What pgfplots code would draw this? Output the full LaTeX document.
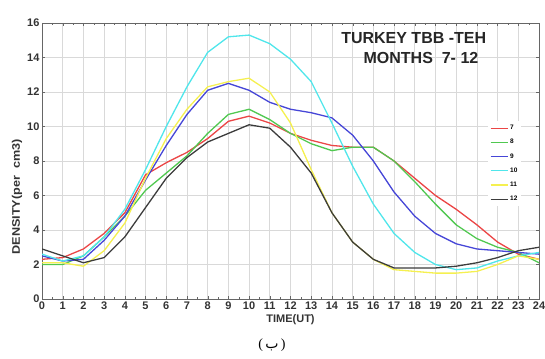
\documentclass[border=0pt]{standalone}
\usepackage{fontspec}
\setmainfont{Liberation Sans}
\newfontfamily\seriffont{Liberation Serif}
\newfontfamily\arabicfont[Script=Arabic]{DejaVu Sans}
\TeXXeTstate=1
\usepackage{graphicx}
\usepackage{pgfplots}
\pgfplotsset{compat=1.18}
\definecolor{c7}{RGB}{235,70,70}
\definecolor{c8}{RGB}{80,200,80}
\definecolor{c9}{RGB}{70,70,215}
\definecolor{c10}{RGB}{80,230,235}
\definecolor{c11}{RGB}{245,240,80}
\definecolor{c12}{RGB}{60,60,60}
\begin{document}
\begin{tikzpicture}
\useasboundingbox (-42pt,-59pt) rectangle (503pt,299pt);
\begin{axis}[
  at={(0pt,0pt)}, anchor=south west,
  scale only axis, width=497pt, height=276pt,
  xmin=0, xmax=24, ymin=0, ymax=16,
  xtick={0,1,...,24}, ytick={0,2,...,16},
  minor x tick num=1,
  tick align=inside,
  major tick length=3pt, minor tick length=2pt,
  grid=major,
  major grid style={draw=gray!30, line width=0.6pt},
  axis line style={draw=gray!80!black, line width=0.8pt},
  tick style={draw=gray!80!black},
  /pgf/number format/assume math mode=true,
  ticklabel style={font=\fontsize{11}{12}\selectfont\bfseries\color{black!80}},
  xticklabel style={yshift=-2pt, inner sep=1pt},
  yticklabel style={xshift=1pt},
  xlabel={TIME(UT)},
  xlabel style={font=\fontsize{11}{12}\selectfont\bfseries\color{black!80}, at={(axis description cs:0.5,0)}, anchor=center, yshift=-21pt},
  ylabel={\scalebox{1.15}[1]{DENSITY(per\ \ cm3)}},
  ylabel style={font=\fontsize{11}{12}\selectfont\bfseries\color{black!80}, at={(axis description cs:0,0.37)}, anchor=center, yshift=25pt},
  legend style={at={(rel axis cs:0.965,0.645)}, anchor=north east, draw=none, fill=white,
    font=\fontsize{6.5}{7}\selectfont\bfseries, row sep=4.2pt, inner sep=2pt},
  legend cell align=left,
  legend image post style={line width=1.2pt},
  every axis plot/.append style={line width=1.3pt},
  clip=true,
]
\addplot[c7] coordinates {(0,2.3)(1,2.4)(2,2.9)(3,3.8)(4,5.0)(5,7.2)(6,7.9)(7,8.5)(8,9.3)(9,10.3)(10,10.6)(11,10.2)(12,9.6)(13,9.2)(14,8.9)(15,8.8)(16,8.8)(17,8.0)(18,7.0)(19,6.0)(20,5.2)(21,4.3)(22,3.3)(23,2.6)(24,2.3)};
\addplot[c8] coordinates {(0,2.0)(1,2.0)(2,2.5)(3,3.6)(4,4.8)(5,6.3)(6,7.3)(7,8.3)(8,9.6)(9,10.7)(10,11.0)(11,10.4)(12,9.6)(13,9.0)(14,8.6)(15,8.8)(16,8.8)(17,8.0)(18,6.8)(19,5.5)(20,4.3)(21,3.5)(22,3.0)(23,2.7)(24,2.1)};
\addplot[c9] coordinates {(0,2.5)(1,2.2)(2,2.3)(3,3.4)(4,4.8)(5,6.9)(6,8.9)(7,10.7)(8,12.1)(9,12.5)(10,12.1)(11,11.4)(12,11.0)(13,10.8)(14,10.5)(15,9.5)(16,8.0)(17,6.2)(18,4.8)(19,3.8)(20,3.2)(21,2.9)(22,2.8)(23,2.7)(24,2.6)};
\addplot[c10] coordinates {(0,2.6)(1,2.2)(2,2.5)(3,3.6)(4,5.2)(5,7.5)(6,10.0)(7,12.3)(8,14.3)(9,15.2)(10,15.3)(11,14.8)(12,13.9)(13,12.6)(14,10.2)(15,7.7)(16,5.5)(17,3.8)(18,2.7)(19,2.0)(20,1.7)(21,1.8)(22,2.2)(23,2.5)(24,2.7)};
\addplot[c11] coordinates {(0,2.1)(1,2.1)(2,1.9)(3,2.8)(4,4.4)(5,7.0)(6,9.3)(7,11.0)(8,12.3)(9,12.6)(10,12.8)(11,12.0)(12,10.2)(13,7.5)(14,5.0)(15,3.3)(16,2.3)(17,1.7)(18,1.6)(19,1.5)(20,1.5)(21,1.6)(22,2.0)(23,2.5)(24,2.3)};
\addplot[c12] coordinates {(0,2.9)(1,2.5)(2,2.1)(3,2.4)(4,3.6)(5,5.3)(6,7.0)(7,8.2)(8,9.1)(9,9.6)(10,10.1)(11,9.9)(12,8.8)(13,7.3)(14,5.0)(15,3.3)(16,2.3)(17,1.8)(18,1.8)(19,1.8)(20,1.9)(21,2.1)(22,2.4)(23,2.8)(24,3.0)};
\legend{7,8,9,10,11,12}
\node[font=\fontsize{16}{17}\selectfont\bfseries, color=black!85, anchor=center, inner sep=0pt] at (axis cs:17.95,15.1) {TURKEY TBB -TEH};
\node[font=\fontsize{16}{17}\selectfont\bfseries, color=black!85, anchor=center, inner sep=0pt] at (axis cs:18.3,14.0) {MONTHS \ 7- 12};
\node[font=\fontsize{7.5}{8}\selectfont\bfseries, color=black!80, anchor=south west, inner sep=1pt] at (rel axis cs:0,1) {x 10$^{11}$};
\end{axis}
\node[font=\fontsize{14}{16}\selectfont\seriffont, anchor=center] at (230pt,-46pt) {(\,{\arabicfont\beginR ب\endR}\,)};
\end{tikzpicture}
\end{document}
